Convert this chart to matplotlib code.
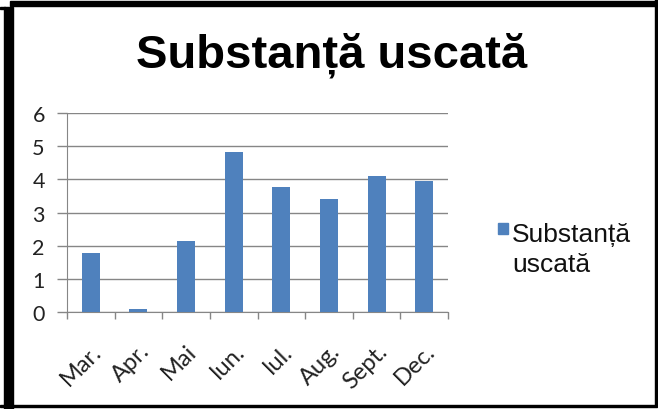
import matplotlib
matplotlib.use("Agg")
import matplotlib.pyplot as plt
from matplotlib.patches import Rectangle
import numpy as np

months = ["Mar.", "Apr.", "Mai", "Iun.", "Iul.", "Aug.", "Sept.", "Dec."]
values = [1.79, 0.10, 2.14, 4.81, 3.76, 3.42, 4.11, 3.96]
yticks = [0, 1, 2, 3, 4, 5, 6]
title = "Substanță uscată"
series_name = "Substanță\nuscată"
bar_color = "#4F81BD"

W, H = 658, 410
fig = plt.figure(figsize=(W / 100, H / 100), dpi=100)
fig.patch.set_facecolor("white")

ax = fig.add_axes([67 / W, 1 - 313 / H, (448 - 67) / W, (313 - 114) / H])
x = np.arange(len(months))
ax.bar(x, values, width=0.38, color=bar_color, zorder=3)

ax.set_xlim(-0.5, len(months) - 0.5)
ax.set_ylim(0, 6)
ax.set_yticks(yticks)
ax.set_yticklabels([str(t) for t in yticks], fontsize=15.5, family="Lato", color="#222222")
ax.grid(axis="y", color="#868686", linewidth=1, zorder=0)
ax.set_xticks(x)
ax.set_xticklabels(months, rotation=45, ha="right", rotation_mode="anchor",
                   fontsize=17, family="Lato", color="#222222")
ax.tick_params(axis="x", length=0, pad=20)
ax.set_xticks(np.arange(-0.5, len(months)), minor=True)
ax.tick_params(axis="x", which="minor", length=5, color="#868686", width=1)
ax.tick_params(axis="y", length=7, color="#868686", width=1, pad=9)
for s in ["top", "right"]:
    ax.spines[s].set_visible(False)
ax.spines["left"].set_color("#868686")
ax.spines["bottom"].set_color("#868686")

fig.text(332 / W, 1 - 55 / H, title, ha="center", va="center",
         fontsize=34, fontweight="bold", family="Liberation Sans")

# legend (manual)
fig.patches.append(Rectangle((498 / W, 1 - 235 / H), 10 / W, 11 / H,
                             transform=fig.transFigure, color=bar_color))
for i, line in enumerate(series_name.split("\n")):
    fig.text(512 / W, 1 - (242 + 30 * i) / H, line, ha="left", va="baseline",
             fontsize=19, family="Liberation Sans", color="#111111")

def rect(x0, y0, x1, y1):
    fig.patches.append(Rectangle((x0 / W, 1 - y1 / H), (x1 - x0) / W, (y1 - y0) / H,
                                 transform=fig.transFigure, color="black", zorder=10))

rect(4, 8, 13, 410)
rect(0, 8, 5, 10)
rect(10, 2, 658, 7)
rect(655, 0, 657, 407)
rect(0, 406, 657, 408)

fig.savefig("out.png", dpi=100)
